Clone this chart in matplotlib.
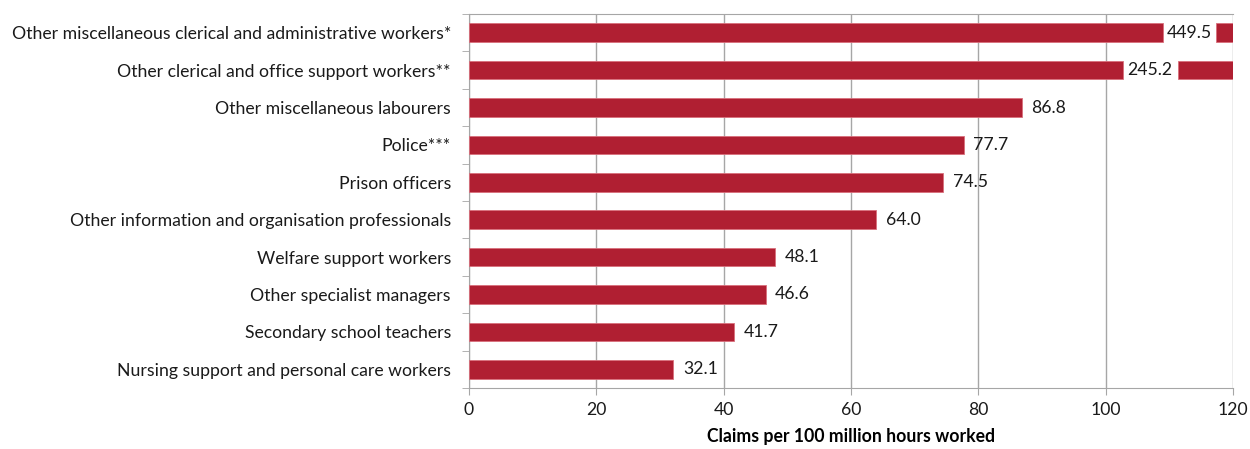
import matplotlib
matplotlib.use("Agg")
import matplotlib.pyplot as plt

plt.rcParams['font.family'] = ['Lato', 'DejaVu Sans']

occupations = [
    "Other miscellaneous clerical and administrative workers*",
    "Other clerical and office support workers**",
    "Other miscellaneous labourers",
    "Police***",
    "Prison officers",
    "Other information and organisation professionals",
    "Welfare support workers",
    "Other specialist managers",
    "Secondary school teachers",
    "Nursing support and personal care workers",
]
claims = [449.5, 245.2, 86.8, 77.7, 74.5, 64.0, 48.1, 46.6, 41.7, 32.1]

xmax = 120
# where the broken bars are cut and where they resume (axis units)
cut_at = {0: (109.0, 117.4), 1: (102.7, 111.3)}

red = '#B01F32'
grid = '#A6A6A6'
fs = 12.7

fig = plt.figure(figsize=(12.5, 4.49), dpi=100)
ax = fig.add_axes([0.3752, 0.1359, 0.6112, 0.8329])

n = len(occupations)
ys = list(range(n))
for i, v in enumerate(claims):
    if i in cut_at:
        a, b = cut_at[i]
        ax.barh(i, a, height=0.5, color=red, edgecolor='#D9707C', linewidth=0.6, zorder=3)
        ax.barh(i, xmax - b, left=b, height=0.5, color=red, edgecolor='#D9707C', linewidth=0.6, zorder=3)
        ax.text((a + b) / 2, i, f"{v:.1f}", va='center', ha='center', fontsize=fs, color='#1a1a1a', zorder=4)
    else:
        ax.barh(i, v, height=0.5, color=red, edgecolor='#D9707C', linewidth=0.6, zorder=3)
        ax.text(v + 1.5, i, f"{v:.1f}", va='center', ha='left', fontsize=fs, color='#1a1a1a', zorder=4)

ax.set_xlim(0, xmax)
ax.set_ylim(n - 0.5, -0.5)
ax.set_xticks(range(0, 121, 20))
ax.tick_params(axis='x', length=5, color=grid, labelsize=fs, pad=5, labelcolor='#1a1a1a')

ax.set_yticks(ys)
ax.set_yticklabels(occupations, fontsize=fs, color='#1a1a1a')
ax.tick_params(axis='y', length=0, pad=13)
ax.set_yticks([i - 0.5 for i in range(n + 1)], minor=True)
ax.tick_params(axis='y', which='minor', length=5, color=grid)

ax.grid(axis='x', color=grid, linewidth=1, zorder=0)
for s in ax.spines.values():
    s.set_color(grid)
ax.spines['right'].set_visible(False)

ax.set_xlabel("Claims per 100 million hours worked", fontsize=fs, fontweight='bold', labelpad=7)

fig.savefig("out.png", dpi=100)
